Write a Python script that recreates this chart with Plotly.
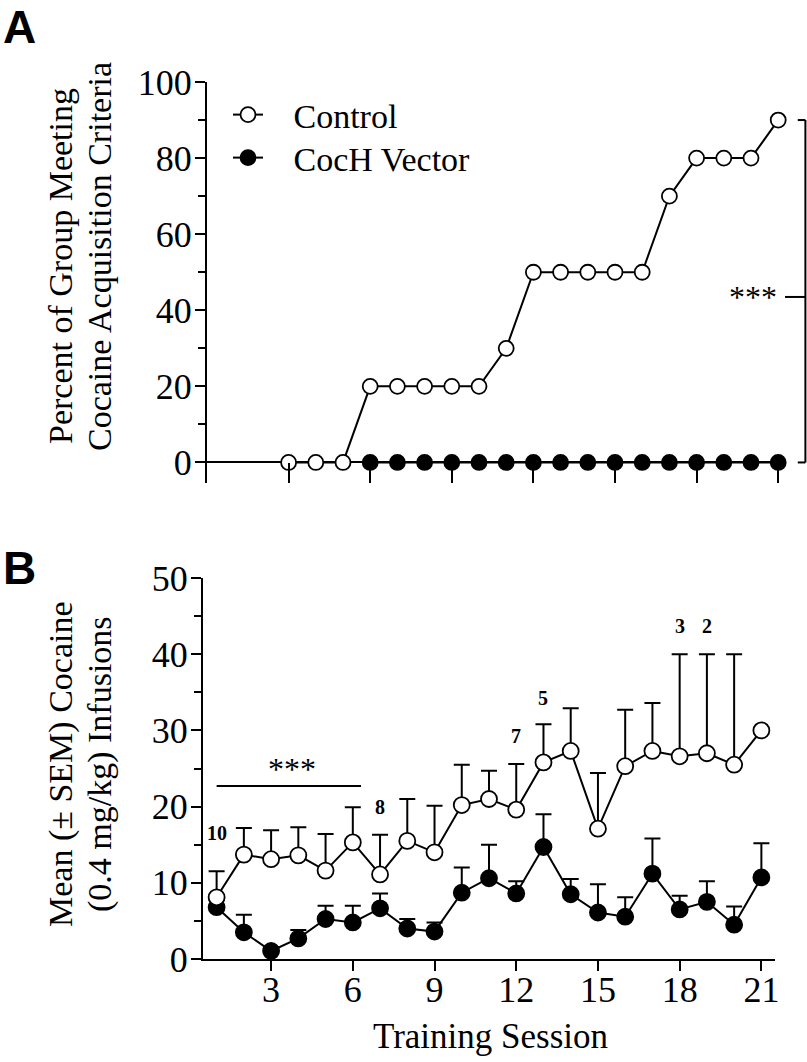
import plotly.graph_objects as go

# ---------------- data ----------------
# Panel A: percent of group meeting acquisition criteria
sessions_A_control = list(range(3, 22))
control_A = [0, 0, 0, 20, 20, 20, 20, 20, 30, 50, 50, 50, 50, 50, 70, 80, 80, 80, 90]
sessions_A_coch = list(range(6, 22))
coch_A = [0] * 16

# Panel B: mean (+SEM) cocaine infusions
sessions_B = list(range(1, 22))
control_B = [8.1, 13.7, 13.1, 13.6, 11.6, 15.3, 11.1, 15.5, 14.0, 20.2, 21.0,
             19.6, 25.8, 27.3, 17.1, 25.3, 27.3, 26.6, 27.0, 25.5, 30.0]
control_B_sem = [3.4, 3.5, 3.8, 3.7, 4.8, 4.6, 5.2, 5.5, 6.1, 5.3, 3.7,
                 6.0, 5.0, 5.6, 7.3, 7.4, 6.3, 13.4, 13.0, 14.5, 0.0]
coch_B = [6.8, 3.5, 1.05, 2.7, 5.25, 4.8, 6.65, 4.0, 3.6, 8.7, 10.6,
          8.6, 14.7, 8.5, 6.1, 5.55, 11.2, 6.5, 7.5, 4.5, 10.7]
coch_B_sem = [1.0, 2.3, 0.5, 1.1, 1.75, 2.2, 1.95, 1.25, 1.2, 3.3, 4.4,
              1.6, 4.3, 2.0, 3.7, 2.55, 4.6, 1.8, 2.7, 2.4, 4.5]

# group sizes shown above control points
n_sessions = [1, 7, 12, 13, 18, 19]
n_labels = ["10", "8", "7", "5", "3", "2"]
n_label_y = [16.6, 20.0, 29.3, 34.3, 43.7, 43.7]

xticks = [3, 6, 9, 12, 15, 18, 21]

# ---------------- layout geometry ----------------
W, H = 807, 1062
SERIF = "Liberation Serif"
SANS = "Liberation Sans"

A_xrange = [0, 21.25]
A_yrange = [-5.4, 100]
A_xdom = [207 / W, 785 / W]
A_ydom = [1 - 483 / H, 1 - 82 / H]

B_xrange = [0.5, 21.5]
B_yrange = [0, 50]
B_xdom = [203 / W, 775 / W]
B_ydom = [1 - 959 / H, 1 - 578 / H]


def ax_to_paper(v, rng, dom):
    return dom[0] + (v - rng[0]) / (rng[1] - rng[0]) * (dom[1] - dom[0])


fig = go.Figure()

mk_open = dict(symbol="circle", size=15, color="white", line=dict(color="black", width=1.8))
mk_fill = dict(symbol="circle", size=15, color="black", line=dict(color="black", width=1.8))
ln = dict(color="black", width=2)

# Panel A traces
fig.add_trace(go.Scatter(x=sessions_A_coch, y=coch_A, mode="lines+markers",
                         name="\u00a0\u00a0\u00a0CocH Vector", legend="legend2",
                         marker=mk_fill, line=ln, xaxis="x", yaxis="y", cliponaxis=False))
fig.add_trace(go.Scatter(x=sessions_A_control, y=control_A, mode="lines+markers",
                         name="\u00a0\u00a0\u00a0Control", legend="legend",
                         marker=mk_open, line=ln, xaxis="x", yaxis="y", cliponaxis=False))

# Panel B traces
fig.add_trace(go.Scatter(x=sessions_B, y=coch_B, mode="lines+markers", name="CocH Vector",
                         showlegend=False,
                         marker=dict(mk_fill, size=16), line=ln, xaxis="x2", yaxis="y2", cliponaxis=False,
                         error_y=dict(type="data", array=coch_B_sem, arrayminus=[0] * 21, symmetric=False,
                                      color="black", thickness=2, width=8)))
fig.add_trace(go.Scatter(x=sessions_B, y=control_B, mode="lines+markers", name="Control",
                         showlegend=False,
                         marker=dict(mk_open, size=16), line=ln, xaxis="x2", yaxis="y2", cliponaxis=False,
                         error_y=dict(type="data", array=control_B_sem, arrayminus=[0] * 21, symmetric=False,
                                      color="black", thickness=2, width=8)))

tickfont = dict(family=SERIF, size=36, color="black")
legfont = dict(family=SERIF, size=34, color="black")

fig.update_layout(
    template="none",
    width=W, height=H,
    margin=dict(l=0, r=0, t=0, b=0, pad=0),
    paper_bgcolor="white", plot_bgcolor="white",
    font=dict(family=SERIF, color="black"),
    xaxis=dict(domain=A_xdom, range=A_xrange, anchor="y", showline=False, showgrid=False,
               automargin=False,
               zeroline=False, tickvals=xticks, ticks="inside", ticklen=20, tickwidth=2,
               tickcolor="black", showticklabels=False),
    yaxis=dict(domain=A_ydom, range=A_yrange, anchor="x", showline=True, linecolor="black",
               automargin=False, ticklabelstandoff=-4,
               linewidth=2, showgrid=False, zeroline=True, zerolinecolor="black", zerolinewidth=2,
               tickvals=[0, 20, 40, 60, 80, 100], ticks="outside", ticklen=10, tickwidth=2,
               tickcolor="black", tickfont=tickfont,
               minor=dict(tickvals=[10, 30, 50, 70, 90], ticks="outside", ticklen=7, tickwidth=2,
                          tickcolor="black")),
    xaxis2=dict(domain=B_xdom, range=B_xrange, anchor="y2", showline=True, linecolor="black",
                automargin=False, ticklabelstandoff=-12,
                linewidth=2, showgrid=False, zeroline=False, tickvals=xticks, ticks="outside",
                ticklen=10, tickwidth=2, tickcolor="black", tickfont=tickfont),
    yaxis2=dict(domain=B_ydom, range=B_yrange, anchor="x2", showline=True, linecolor="black",
                automargin=False, ticklabelstandoff=-4,
                linewidth=2, showgrid=False, zeroline=False, tickvals=[0, 10, 20, 30, 40, 50],
                ticks="outside", ticklen=10, tickwidth=2, tickcolor="black", tickfont=tickfont,
                minor=dict(tickvals=[5, 15, 25, 35, 45], ticks="outside", ticklen=7, tickwidth=2,
                           tickcolor="black")),
    legend=dict(x=228 / W, y=1 - 115 / H, xanchor="left", yanchor="middle",
                bgcolor="rgba(0,0,0,0)", font=legfont),
    legend2=dict(x=228 / W, y=1 - 158 / H, xanchor="left", yanchor="middle",
                 bgcolor="rgba(0,0,0,0)", font=legfont),
    showlegend=True,
)

annotations = []
# panel letters
annotations.append(dict(text="<b>A</b>", x=19 / W, y=1 - 27 / H, xref="paper", yref="paper",
                        xanchor="center", yanchor="middle", showarrow=False, borderpad=0,
                        font=dict(family=SANS, size=46, color="black")))
annotations.append(dict(text="<b>B</b>", x=19 / W, y=1 - 568 / H, xref="paper", yref="paper",
                        xanchor="center", yanchor="middle", showarrow=False, borderpad=0,
                        font=dict(family=SANS, size=46, color="black")))
# axis titles
titlefont = dict(family=SERIF, size=34, color="black")
for txt, px, py in [("Percent of Group Meeting", 61, 266),
                    ("Cocaine Acquisition Criteria", 100, 257),
                    ("Mean (± SEM) Cocaine", 61, 764),
                    ("(0.4 mg/kg) Infusions", 100, 764)]:
    annotations.append(dict(text=txt, x=px / W, y=1 - py / H, xref="paper", yref="paper",
                            xanchor="center", yanchor="middle", textangle=-90, showarrow=False,
                            font=titlefont))
annotations.append(dict(text="Training Session", x=490 / W, y=1 - 1036 / H, xref="paper",
                        yref="paper", xanchor="center", yanchor="middle", showarrow=False,
                        font=dict(family=SERIF, size=35, color="black")))

# n labels above control points
for s, t, yv in zip(n_sessions, n_labels, n_label_y):
    annotations.append(dict(text=f"<b>{t}</b>", x=s, y=yv, xref="x2", yref="y2",
                            xanchor="center", yanchor="middle", showarrow=False,
                            font=dict(family=SERIF, size=20, color="black")))

# panel B significance bar
annotations.append(dict(text="***", x=3.75, y=25.0, xref="x2", yref="y2", xanchor="center",
                        yanchor="middle", showarrow=False,
                        font=dict(family=SERIF, size=32, color="black")))

# panel A bracket (converted from data values to paper)
brk_x = ax_to_paper(22.0, A_xrange, A_xdom)
brk_end = ax_to_paper(21.72, A_xrange, A_xdom)
brk_mid = ax_to_paper(21.25, A_xrange, A_xdom)
y_top = ax_to_paper(max(control_A), A_yrange, A_ydom)
y_bot = ax_to_paper(0, A_yrange, A_ydom)
y_mid = ax_to_paper(43.5, A_yrange, A_ydom)
shapes = [
    dict(type="line", xref="paper", yref="paper", x0=brk_x, x1=brk_x, y0=y_bot, y1=y_top,
         line=dict(color="black", width=2)),
    dict(type="line", xref="paper", yref="paper", x0=brk_end, x1=brk_x, y0=y_top, y1=y_top,
         line=dict(color="black", width=2)),
    dict(type="line", xref="paper", yref="paper", x0=brk_end, x1=brk_x, y0=y_bot, y1=y_bot,
         line=dict(color="black", width=2)),
    dict(type="line", xref="paper", yref="paper", x0=brk_mid, x1=brk_x, y0=y_mid, y1=y_mid,
         line=dict(color="black", width=2)),
    dict(type="line", xref="x2", yref="y2", x0=1.0, x1=6.3, y0=22.7, y1=22.7,
         line=dict(color="black", width=2)),
]
annotations.append(dict(text="***", x=ax_to_paper(20.07, A_xrange, A_xdom), y=y_mid,
                        xref="paper", yref="paper", xanchor="center", yanchor="middle",
                        showarrow=False, font=dict(family=SERIF, size=32, color="black")))

fig.update_layout(annotations=annotations, shapes=shapes)

fig.write_html("out.html", config={"displayModeBar": False},
               post_script="document.body.style.margin='0';document.body.style.overflow='hidden';")
